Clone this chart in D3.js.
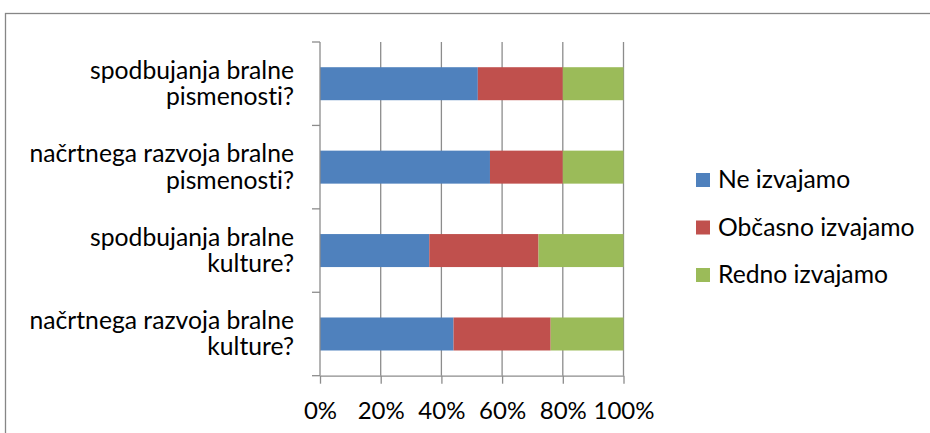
<!DOCTYPE html>
<html>
<head>
<meta charset="utf-8">
<script src="https://cdn.jsdelivr.net/npm/d3@7"></script>
<style>
  html, body { margin: 0; padding: 0; background: #fff; }
  svg { display: block; }
  text { font-family: Lato, "Open Sans", sans-serif; fill: #000; font-variant-ligatures: none; }
</style>
</head>
<body>
<svg id="chart" width="930" height="433"></svg>
<script>
// Survey items, top to bottom; each label is split into two lines
const categories = [
  ["spodbujanja bralne", "pismenosti?"],
  ["načrtnega razvoja bralne", "pismenosti?"],
  ["spodbujanja bralne", "kulture?"],
  ["načrtnega razvoja bralne", "kulture?"]
];
const seriesNames = ["Ne izvajamo", "Občasno izvajamo", "Redno izvajamo"];
const seriesColors = ["#4f81bd", "#c0504d", "#9bbb59"];
// Shares in percent, one array per series, in category order
const neIzvajamo = [52, 56, 36, 44];
const obcasnoIzvajamo = [28, 24, 36, 32];
const rednoIzvajamo = [20, 20, 28, 24];
const xTicks = [0, 20, 40, 60, 80, 100];

const FONT = 24.7;
const series = [neIzvajamo, obcasnoIzvajamo, rednoIzvajamo];
const rows = categories.map((c, i) => {
  const r = { key: i };
  seriesNames.forEach((s, j) => { r[s] = series[j][i]; });
  return r;
});

const svg = d3.select("#chart");

// Outer frame
svg.append("rect")
  .attr("x", 5.5).attr("y", 13.5)
  .attr("width", 940).attr("height", 440)
  .attr("fill", "none").attr("stroke", "#868686").attr("stroke-width", 1.3);

const x = d3.scaleLinear().domain([0, 100]).range([320, 623.5]);
const band = d3.scaleBand().domain(d3.range(categories.length)).range([42, 375.7]);
const barH = 33;

// Vertical gridlines
svg.append("g").selectAll("line")
  .data(xTicks.slice(1))
  .join("line")
  .attr("x1", d => x(d)).attr("x2", d => x(d))
  .attr("y1", 42).attr("y2", 375.7)
  .attr("stroke", "#8c8c8c").attr("stroke-width", 1.3);

// Stacked bars
const stack = d3.stack().keys(seriesNames)(rows);
svg.append("g").selectAll("g")
  .data(stack)
  .join("g")
  .attr("fill", (d, i) => seriesColors[i])
  .selectAll("rect")
  .data(d => d)
  .join("rect")
  .attr("x", d => x(d[0]))
  .attr("width", d => x(d[1]) - x(d[0]))
  .attr("y", d => band(d.data.key) + band.bandwidth() / 2 - barH / 2)
  .attr("height", barH);

// Category axis (left) with tick marks on band boundaries
const yAxis = svg.append("g");
yAxis.append("line")
  .attr("x1", 320).attr("x2", 320).attr("y1", 42).attr("y2", 375.7)
  .attr("stroke", "#8c8c8c").attr("stroke-width", 1.3);
yAxis.selectAll("line.tick")
  .data(d3.range(categories.length + 1))
  .join("line").attr("class", "tick")
  .attr("x1", 312).attr("x2", 320)
  .attr("y1", i => 42 + i * band.step()).attr("y2", i => 42 + i * band.step())
  .attr("stroke", "#8c8c8c").attr("stroke-width", 1.3);

// Category labels
const labels = svg.append("g").selectAll("text")
  .data(categories)
  .join("text")
  .attr("text-anchor", "end")
  .attr("font-size", FONT)
  .attr("x", 294)
  .attr("y", (d, i) => band(i) + band.bandwidth() / 2);
labels.selectAll("tspan")
  .data(d => d)
  .join("tspan")
  .attr("x", 294)
  .attr("dy", (d, i) => i === 0 ? -5 : 26.5)
  .text(d => d);

// Value axis (bottom)
const xAxis = d3.axisBottom(x).tickValues(xTicks).tickFormat(d => d + "%").tickSize(8).tickSizeOuter(0);
const gx = svg.append("g").attr("transform", "translate(0,375.7)").call(xAxis);
gx.select(".domain").attr("stroke", "#8c8c8c").attr("stroke-width", 1.3);
gx.selectAll(".tick line").attr("stroke", "#8c8c8c").attr("stroke-width", 1.3);
gx.selectAll(".tick text")
  .attr("font-family", "Lato, 'Open Sans', sans-serif")
  .attr("font-size", 24).attr("fill", "#000").attr("dy", 0).attr("y", 43);

// Legend
const legend = svg.append("g").selectAll("g")
  .data(seriesNames)
  .join("g")
  .attr("transform", (d, i) => `translate(696, ${180 + i * 47.5})`);
legend.append("rect")
  .attr("x", 0).attr("y", -7).attr("width", 14).attr("height", 14)
  .attr("fill", (d, i) => seriesColors[i]);
legend.append("text")
  .attr("x", 22).attr("y", 8)
  .attr("font-size", FONT)
  .text(d => d);
</script>
</body>
</html>
